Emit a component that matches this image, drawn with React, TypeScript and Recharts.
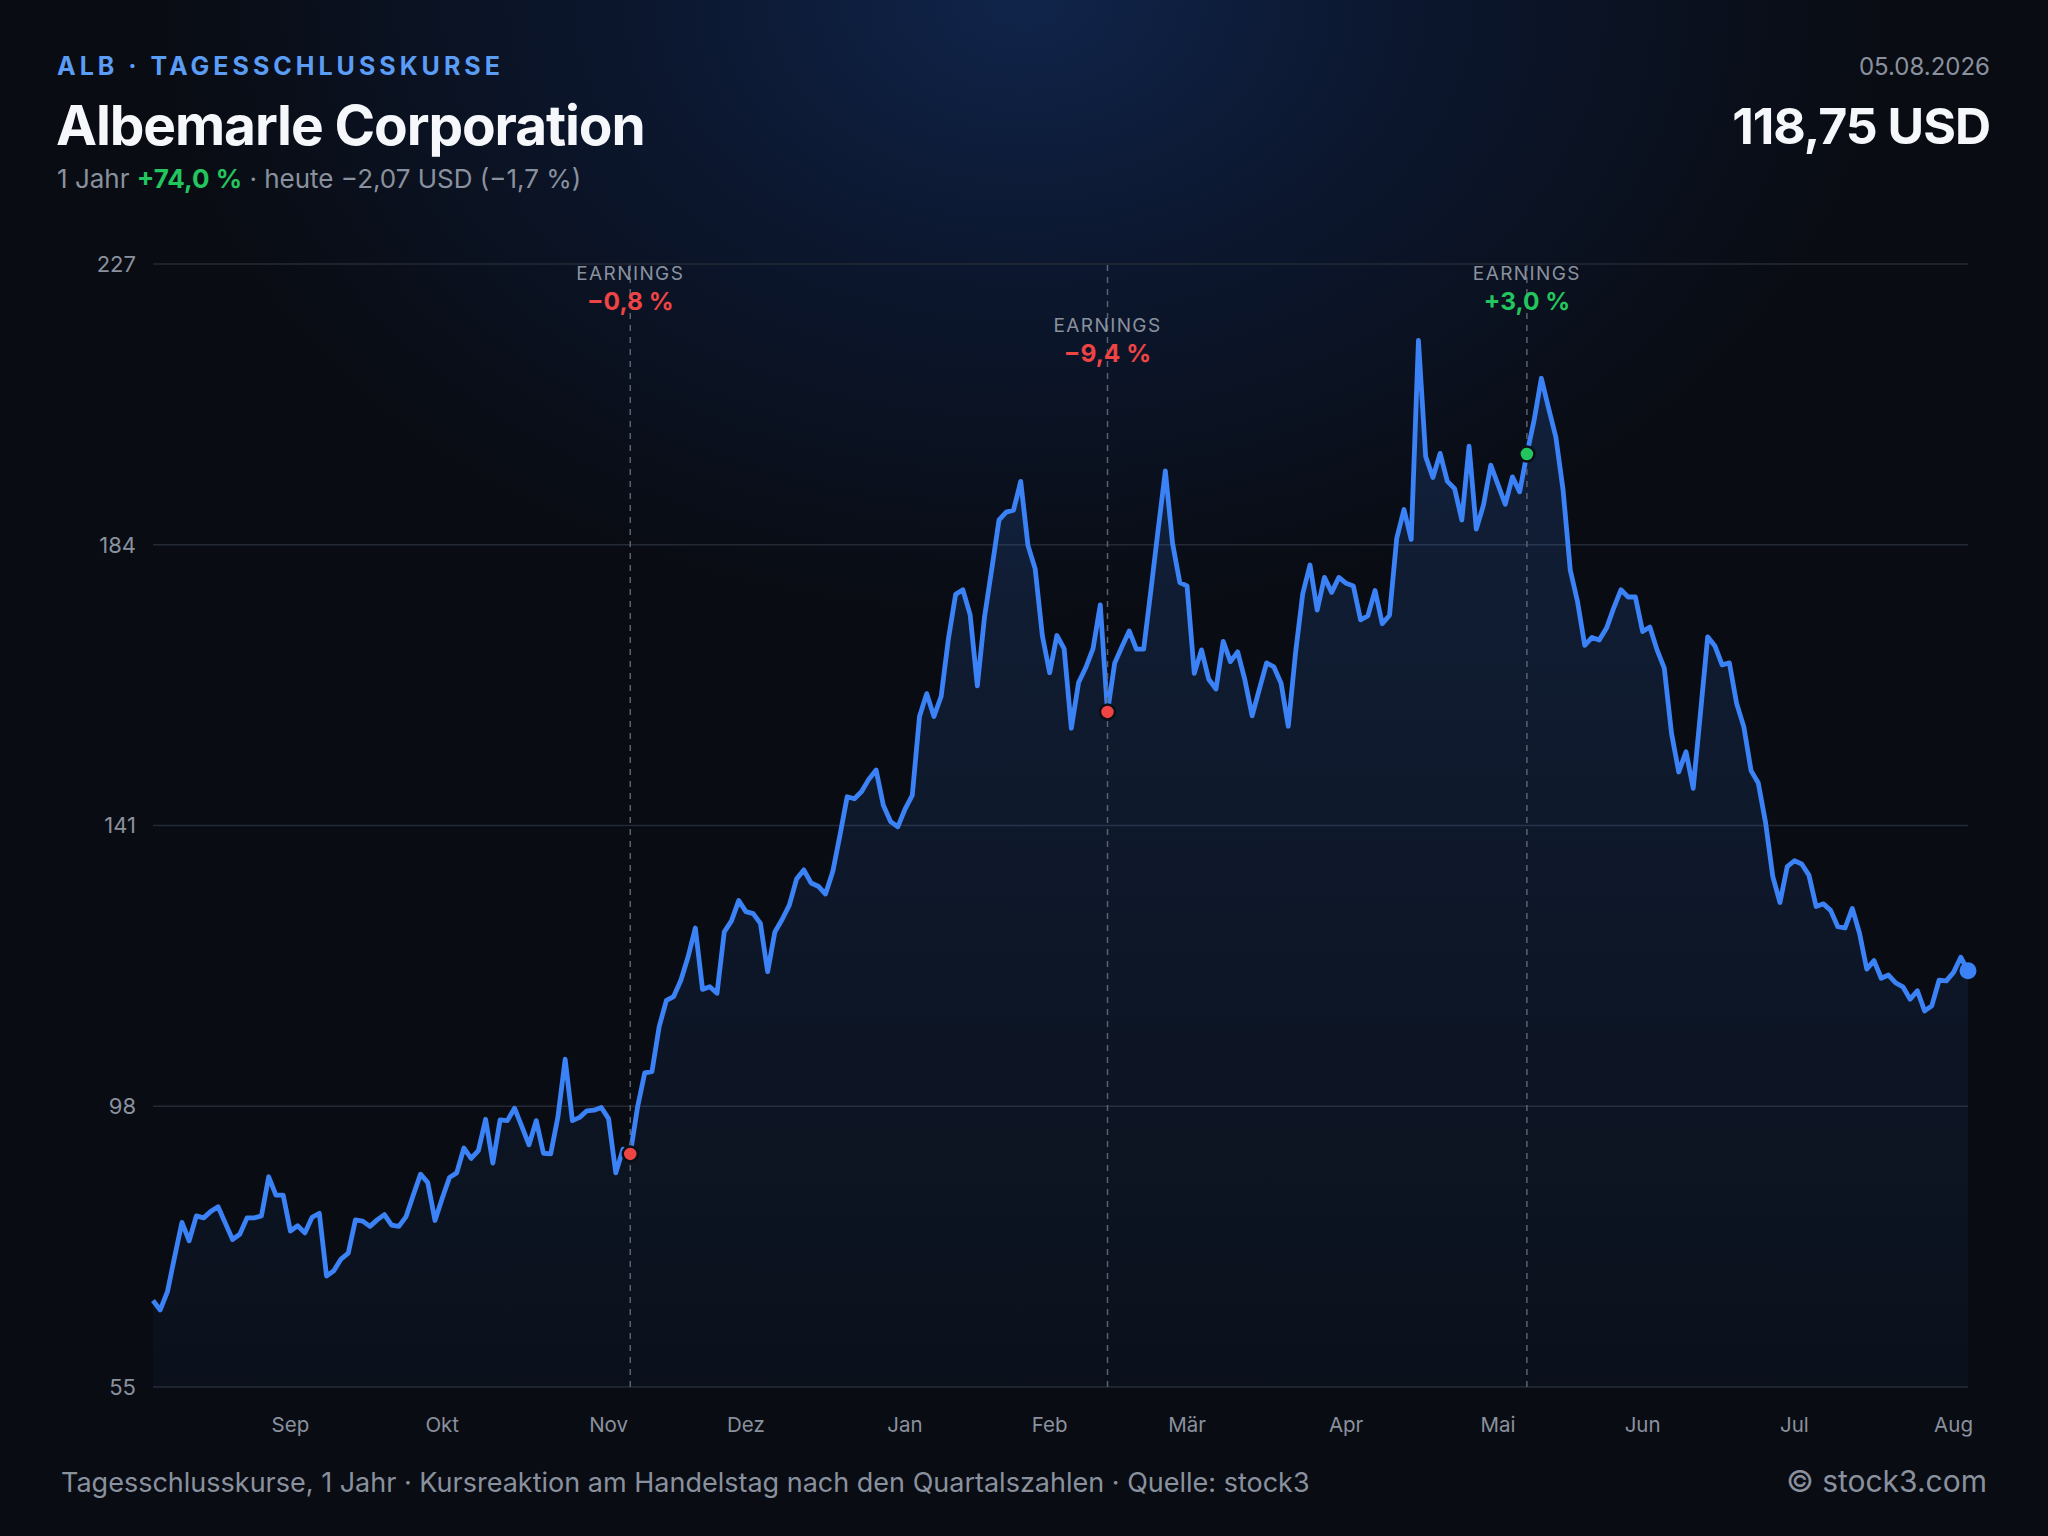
import {
  Area,
  CartesianGrid,
  ComposedChart,
  ReferenceDot,
  ReferenceLine,
  XAxis,
  YAxis,
} from "recharts";

// Tagesschlusskurse ALB, 05.08.2025 – 05.08.2026 (one value per trading day)
const closes = [
  68.25, 66.8, 69.6, 75.0, 80.2, 77.4, 81.2, 80.9, 81.9, 82.6,
  80.1, 77.6, 78.4, 80.9, 80.9, 81.2, 87.2, 84.4, 84.4, 78.9,
  79.7, 78.6, 81.0, 81.6, 72.0, 72.8, 74.6, 75.5, 80.6, 80.4,
  79.6, 80.6, 81.4, 79.8, 79.6, 81.1, 84.4, 87.6, 86.3, 80.5,
  83.9, 87.1, 87.8, 91.6, 90.0, 91.2, 96.0, 89.3, 95.9, 95.8,
  97.7, 94.9, 92.1, 95.8, 90.8, 90.7, 96.4, 105.2, 95.8, 96.3,
  97.3, 97.4, 97.8, 96.1, 87.8, 91.43, 90.7, 97.8, 103.1, 103.3,
  110.2, 114.2, 114.8, 117.3, 120.9, 125.3, 115.9, 116.3, 115.3, 124.7,
  126.4, 129.5, 127.8, 127.5, 126.0, 118.6, 124.7, 126.6, 128.8, 132.8,
  134.2, 132.2, 131.7, 130.5, 133.9, 139.5, 145.4, 145.1, 146.2, 148.1,
  149.5, 144.1, 141.6, 140.8, 143.5, 145.6, 157.7, 161.2, 157.7, 160.8,
  169.6, 176.4, 177.1, 173.3, 162.4, 173.0, 180.3, 187.8, 189.0, 189.3,
  193.7, 183.9, 180.3, 170.0, 164.4, 170.1, 168.1, 155.9, 162.9, 165.2,
  168.1, 174.8, 158.4, 165.9, 168.4, 170.8, 168.0, 168.0, 177.0, 186.3,
  195.3, 184.2, 178.2, 177.7, 164.3, 167.9, 163.4, 161.9, 169.2, 166.1,
  167.6, 163.3, 157.8, 161.9, 165.9, 165.3, 162.8, 156.2, 167.4, 176.5,
  180.9, 174.0, 179.0, 176.7, 179.0, 178.1, 177.7, 172.5, 173.1, 177.0,
  171.9, 173.2, 185.0, 189.4, 184.8, 215.3, 197.5, 194.3, 198.0, 193.7,
  192.6, 187.8, 199.1, 186.4, 190.1, 196.2, 193.2, 190.2, 194.4, 192.1,
  197.9, 203.1, 209.5, 204.9, 200.5, 192.4, 180.1, 175.3, 168.6, 169.8,
  169.4, 171.2, 174.3, 177.1, 176.0, 176.0, 170.7, 171.4, 167.9, 165.1,
  155.1, 149.2, 152.3, 146.7, 158.2, 169.9, 168.5, 165.6, 165.9, 159.7,
  156.1, 149.4, 147.5, 141.5, 133.2, 129.2, 134.7, 135.6, 135.1, 133.4,
  128.6, 129.0, 128.0, 125.5, 125.3, 128.3, 124.5, 119.0, 120.3, 117.6,
  118.1, 116.9, 116.3, 114.4, 115.7, 112.6, 113.4, 117.3, 117.2, 118.5,
  120.82, 118.75,
];

// first trading day of each month (index into closes)
const monthTickIdx = [19, 40, 63, 82, 104, 124, 143, 165, 186, 206, 227, 249];
const monthLabels = ["Sep", "Okt", "Nov", "Dez", "Jan", "Feb", "Mär", "Apr", "Mai", "Jun", "Jul", "Aug"];
const priceTicks = [55, 98, 141, 184, 227];

// trading day after the quarterly report
const earningsIdx = [66, 132, 190];
const earningsMoves = ["−0,8 %", "−9,4 %", "+3,0 %"];
const earningsRow = [0, 1, 0];

const FONT = "Inter, 'Noto Sans', sans-serif";
const BLUE = "#3b82f6";
const RED = "#ef4444";
const GREEN = "#22c55e";
const MUTED = "#8a919e";

const data = closes.map((close, i) => ({ i, close }));
const lastIdx = closes.length - 1;

function EarningsLabel(props: any) {
  const { viewBox, move, row } = props;
  const x = viewBox.x;
  const y = viewBox.y + row * 52;
  const up = move.startsWith("+");
  return (
    <g>
      <text
        x={x}
        y={y + 16}
        textAnchor="middle"
        fill={MUTED}
        fontSize={19}
        letterSpacing={1.4}
        fontFamily={FONT}
      >
        EARNINGS
      </text>
      <text
        x={x}
        y={y + 46}
        textAnchor="middle"
        fill={up ? GREEN : RED}
        fontSize={24.5}
        fontWeight={700}
        fontFamily={FONT}
      >
        {move}
      </text>
    </g>
  );
}

export default function App() {
  return (
    <div
      style={{
        position: "fixed",
        left: 0,
        top: 0,
        width: 2048,
        height: 1536,
        overflow: "hidden",
        fontFamily: FONT,
        background:
          "radial-gradient(ellipse 42% 40% at 50% 0%, #10244a 0%, #0c1831 40%, rgba(9,12,19,0) 100%), #090c13",
      }}
    >
      <div
        style={{
          position: "absolute",
          left: 57,
          top: 54,
          fontSize: 25,
          lineHeight: 1,
          fontWeight: 700,
          letterSpacing: "0.16em",
          color: "#5b9cf5",
        }}
      >
        ALB · TAGESSCHLUSSKURSE
      </div>
      <div
        style={{
          position: "absolute",
          left: 56,
          top: 98,
          fontSize: 55,
          lineHeight: 1,
          fontWeight: 700,
          letterSpacing: "-0.02em",
          color: "#f5f7fb",
        }}
      >
        Albemarle Corporation
      </div>
      <div
        style={{
          position: "absolute",
          left: 57,
          top: 166,
          fontSize: 26,
          lineHeight: 1,
          color: MUTED,
        }}
      >
        1 Jahr <span style={{ color: GREEN, fontWeight: 700 }}>+74,0 %</span> · heute −2,07 USD (−1,7 %)
      </div>
      <div
        style={{
          position: "absolute",
          right: 58,
          top: 55,
          fontSize: 24,
          lineHeight: 1,
          color: MUTED,
        }}
      >
        05.08.2026
      </div>
      <div
        style={{
          position: "absolute",
          right: 58,
          top: 101,
          fontSize: 50,
          lineHeight: 1,
          fontWeight: 700,
          letterSpacing: "-0.02em",
          color: "#f5f7fb",
        }}
      >
        118,75 USD
      </div>

      <div style={{ position: "absolute", left: 0, top: 0 }}>
        <ComposedChart
          width={2048}
          height={1536}
          data={data}
          margin={{ top: 264, right: 80, bottom: 109, left: 53 }}
        >
          <defs>
            <linearGradient id="albFill" x1="0" y1="0" x2="0" y2="1">
              <stop offset="0%" stopColor={BLUE} stopOpacity={0.28} />
              <stop offset="100%" stopColor={BLUE} stopOpacity={0.06} />
            </linearGradient>
          </defs>
          <CartesianGrid vertical={false} stroke="#242a35" strokeWidth={1.5} />
          <XAxis
            dataKey="i"
            type="number"
            domain={[0, lastIdx]}
            ticks={monthTickIdx}
            interval={0}
            tickFormatter={(v) => monthLabels[monthTickIdx.indexOf(v)]}
            axisLine={false}
            tickLine={false}
            tickMargin={24}
            height={40}
            tick={{ fill: MUTED, fontSize: 20.5, fontFamily: FONT }}
          />
          <YAxis
            domain={[55, 227]}
            ticks={priceTicks}
            interval={0}
            axisLine={false}
            tickLine={false}
            tickMargin={11}
            width={100}
            tick={{ fill: MUTED, fontSize: 22, fontFamily: FONT }}
          />
          {earningsIdx.map((idx, k) => (
            <ReferenceLine
              key={idx}
              x={idx}
              stroke="#5a6170"
              strokeWidth={1.5}
              strokeDasharray="6 6"
              label={<EarningsLabel move={earningsMoves[k]} row={earningsRow[k]} />}
            />
          ))}
          <Area
            type="linear"
            dataKey="close"
            stroke={BLUE}
            strokeWidth={4.8}
            strokeLinejoin="round"
            fill="url(#albFill)"
            dot={false}
            activeDot={false}
            isAnimationActive={false}
          />
          {earningsIdx.map((idx, k) => (
            <ReferenceDot
              key={idx}
              x={idx}
              y={closes[idx]}
              r={7.5}
              fill={earningsMoves[k].startsWith("+") ? GREEN : RED}
              stroke="#0a0e16"
              strokeWidth={2.5}
            />
          ))}
          <ReferenceDot x={lastIdx} y={closes[lastIdx]} r={8.5} fill={BLUE} stroke="none" />
        </ComposedChart>
      </div>

      <div
        style={{
          position: "absolute",
          left: 61,
          top: 1469,
          fontSize: 27,
          lineHeight: 1,
          color: MUTED,
        }}
      >
        Tagesschlusskurse, 1 Jahr · Kursreaktion am Handelstag nach den Quartalszahlen · Quelle: stock3
      </div>
      <div
        style={{
          position: "absolute",
          right: 61,
          top: 1466,
          fontSize: 30,
          lineHeight: 1,
          color: MUTED,
        }}
      >
        © stock3.com
      </div>
    </div>
  );
}
